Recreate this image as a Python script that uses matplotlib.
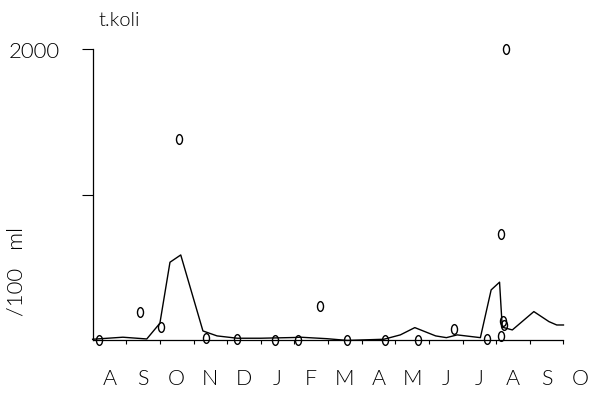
import numpy as np
import matplotlib
matplotlib.use("Agg")
import matplotlib.pyplot as plt
from matplotlib.path import Path

# month labels, one per month interval (Aug .. Oct)
months = ["A", "S", "O", "N", "D", "J", "F", "M", "A", "M", "J", "J", "A", "S", "O"]

# x in months since start of August
line_x = [0, 0.9, 1.61, 2.0, 2.3, 2.62, 3.28, 3.7, 4.3, 5.0, 6.0, 6.18, 6.96,
          7.57, 8.66, 9.15, 9.58, 10.2, 10.52, 10.84, 11.53, 11.85, 12.1,
          12.18, 12.48, 13.12, 13.57, 13.8, 14.0]
line_y = [8, 22, 10, 118, 537, 587, 65, 31, 15, 15, 20, 22, 12,
          0, 8, 38, 88, 31, 19, 38, 19, 347, 400,
          91, 72, 198, 129, 106, 106]

obs_x = [0.19, 1.41, 2.03, 2.57, 3.37, 4.3, 5.43, 6.1, 6.75, 7.57, 8.7, 9.67,
         10.76, 11.73, 12.13, 12.15, 12.21, 12.23, 12.28]
obs_y = [0, 194, 95, 1384, 15, 8, 3, 0, 239, 0, 0, 0,
         79, 8, 31, 731, 136, 106, 2000]

font = dict(family=["Lato", "DejaVu Sans"], fontweight=300, color="black")

fig = plt.figure(figsize=(5.9, 3.94), dpi=100)
ax = fig.add_axes([0.157, 0.136, 0.798, 0.739])

ax.plot(line_x, line_y, color="black", linewidth=1.0, clip_on=False)

# tall ellipse marker, like the plotter's "0"
circ = Path.unit_circle()
ellipse = Path(circ.vertices * np.array([0.62, 1.0]), circ.codes)
ax.plot(obs_x, obs_y, linestyle="none", marker=ellipse, markersize=7,
        markerfacecolor="none", markeredgecolor="black", markeredgewidth=1.0,
        clip_on=False)

ax.set_xlim(0, 14)
ax.set_ylim(0, 2000)

for side in ["top", "right"]:
    ax.spines[side].set_visible(False)
for side in ["left", "bottom"]:
    ax.spines[side].set_linewidth(0.9)

ax.set_xticks(np.arange(1, 15))
ax.set_xticklabels([])
ax.tick_params(axis="x", direction="out", length=3, width=0.8)

ax.set_yticks([1000, 2000])
ax.set_yticklabels(["", ""])
ax.tick_params(axis="y", direction="out", length=8, width=0.8)

for i, m in enumerate(months):
    ax.text(i + 0.5, -0.132, m, transform=ax.get_xaxis_transform(),
            ha="center", va="center", fontsize=15.5, clip_on=False, **font)

fig.text(60 / 590, 1 - 52 / 394, "2000", ha="right", va="center", fontsize=16, **font)
fig.text(119 / 590, 1 - 20 / 394, "t.koli", ha="center", va="center", fontsize=14.5, **font)
fig.text(17 / 590, 1 - 272 / 394, "/100   ml", ha="center", va="center",
         rotation=90, fontsize=16, **font)

fig.savefig("out.png", dpi=100)
